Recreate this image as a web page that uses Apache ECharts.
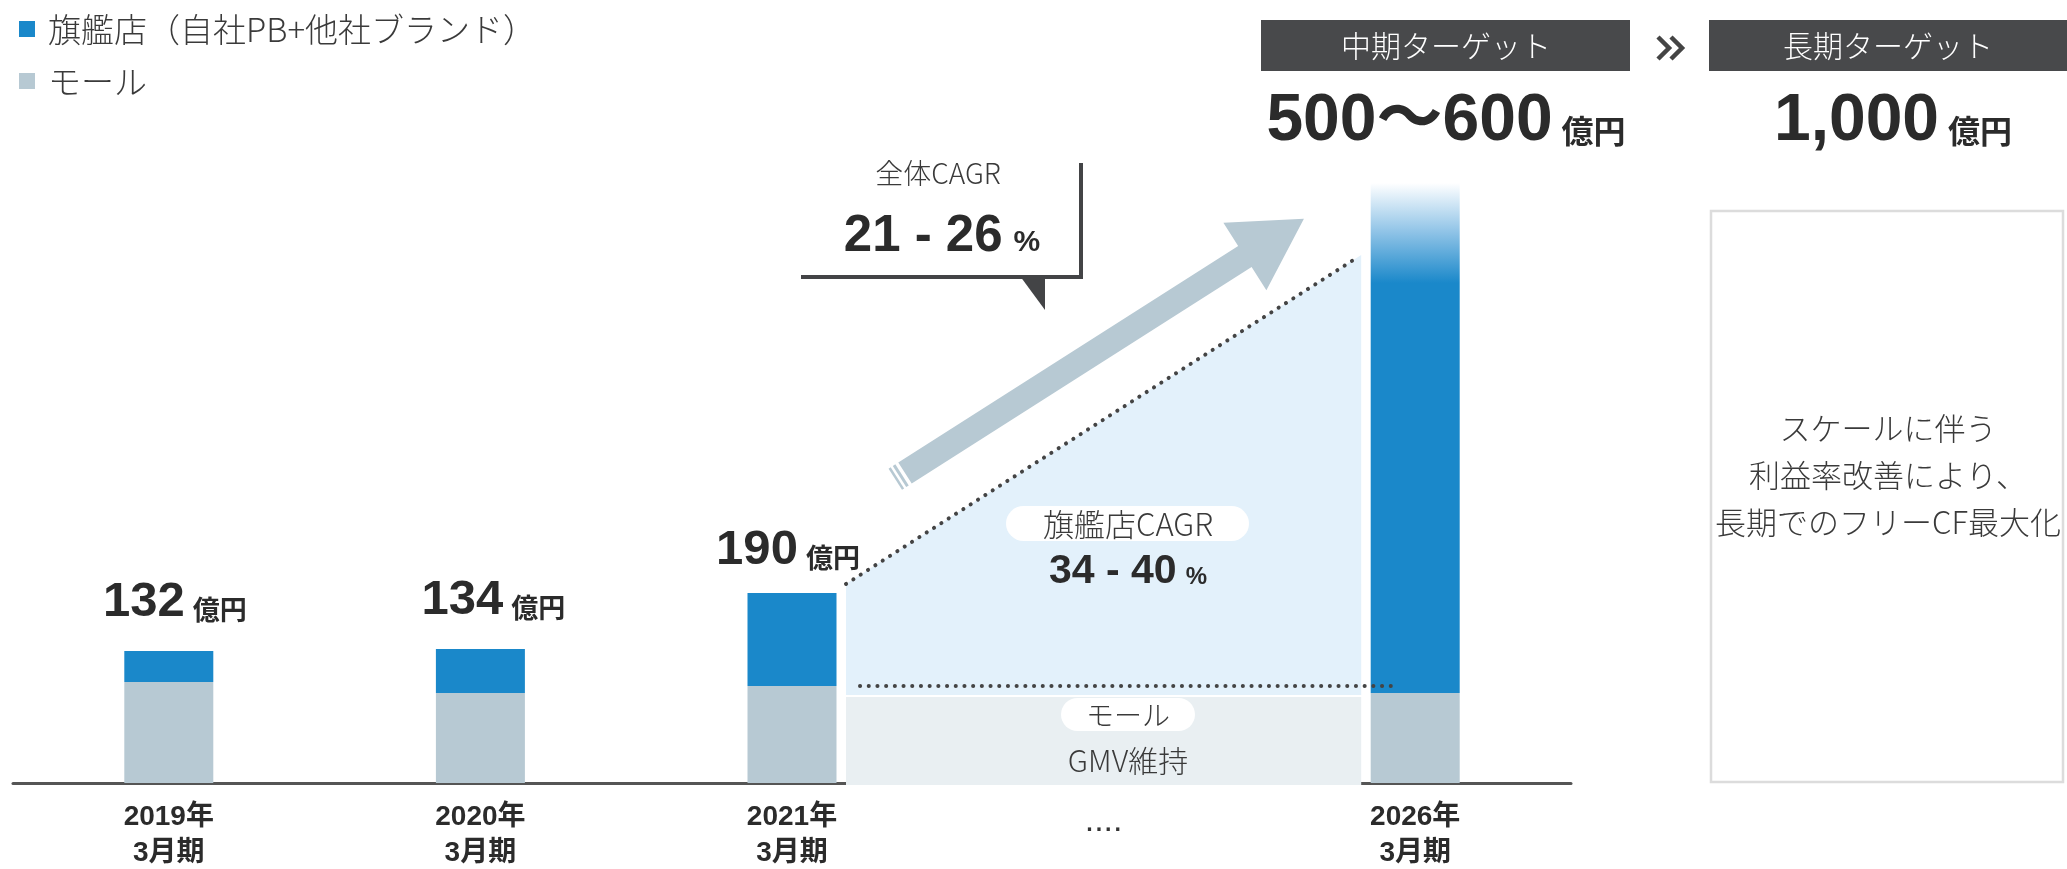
<!DOCTYPE html>
<html><head><meta charset="utf-8">
<script src="https://cdn.jsdelivr.net/npm/echarts@6/dist/echarts.min.js"></script>
<style>html,body{margin:0;padding:0;background:#fff}#c{width:2067px;height:869px}</style>
</head><body><div id="c"></div>
<script>
// ---- data ----
const categories = ['2019年\n3月期', '2020年\n3月期', '2021年\n3月期', '....', '2026年\n3月期'];
const mallValues = [101, 90, 97, null, 90];
const flagshipValues = [31, 44, 93, null, 410];
const targetRangeValues = [null, null, null, null, 100];   // 500〜600 target band
const totalLabels = [132, 134, 190, null, null];
const trendFlagship = [199, 528];   // dotted growth line 2021 -> 2026
const mallBandTop = 86;
const seriesNames = ['旗艦店（自社PB+他社ブランド）', 'モール'];

// ---- styles ----
const BLUE = '#1a88ca', MALL = '#b7c9d3', LIGHT = '#e3f1fb', BAND = '#e9eff2';
const DARK = '#48494b', TEXT = '#2b2b2b', GREYTXT = '#3a3a3a';
const NUM = '"Liberation Sans", "Noto Sans CJK JP", sans-serif';
const CJK = '"Noto Sans CJK JP", sans-serif';
const BW = 89;
const labelOffsets = [[6, 0], [13, 0], [-4, 6], [0, 0], [0, 0]];

const chart = echarts.init(document.getElementById('c'), null, {renderer: 'canvas'});
chart.setOption({
  animation: false,
  backgroundColor: '#fff',
  grid: {left: 13, right: 496, top: 183, bottom: 86, outerBoundsMode: 'none', containLabel: false},
  legend: {
    data: seriesNames, orient: 'vertical', left: 14, top: 5, icon: 'rect',
    itemWidth: 16, itemHeight: 16, itemGap: 14, selectedMode: false,
    textStyle: {fontSize: 33, color: GREYTXT, fontFamily: CJK, fontWeight: 300, lineHeight: 38, padding: [0, 0, 0, 8]}
  },
  xAxis: {
    type: 'category', data: categories,
    axisLine: {lineStyle: {color: '#555', width: 3}},
    axisTick: {show: false},
    axisLabel: {fontSize: 28, fontWeight: 'bold', color: TEXT, fontFamily: NUM, lineHeight: 36, margin: 16, interval: 0,
      formatter: v => v === '....' ? '{d|' + v + '}' : v,
      rich: {d: {fontSize: 34, fontWeight: 'normal', fontFamily: NUM, color: '#333', padding: [9, 0, 0, 0]}}}
  },
  yAxis: {type: 'value', min: 0, max: 600, show: false},
  series: [
    {name: seriesNames[1], type: 'bar', stack: 't', barWidth: BW, data: mallValues, itemStyle: {color: MALL}},
    {name: seriesNames[0], type: 'bar', stack: 't', barWidth: BW, itemStyle: {color: BLUE},
      data: flagshipValues.map((v, i) => ({value: v, label: {offset: labelOffsets[i]}})),
      label: {show: true, position: 'top', distance: 24,
        formatter: p => totalLabels[p.dataIndex] == null ? '' : '{n|' + totalLabels[p.dataIndex] + '}{u|億円}',
        rich: {
          n: {fontSize: 49, fontWeight: 'bold', fontFamily: NUM, color: TEXT},
          u: {fontSize: 27, fontWeight: 'bold', fontFamily: CJK, color: TEXT, padding: [14, 0, 0, 8]}
        }}},
    {name: 'target', type: 'bar', stack: 't', barWidth: BW, data: targetRangeValues,
      itemStyle: {color: new echarts.graphic.LinearGradient(0, 0, 0, 1, [
        {offset: 0, color: '#ffffff'}, {offset: 0.5, color: '#8dc2e6'}, {offset: 1, color: BLUE}])}}
  ]
});

// ---- decorations placed from the chart's own scales ----
const px = (i, v) => chart.convertToPixel({gridIndex: 0}, [i, v]);
const x0 = px(2, 0)[0] + BW / 2 + 9.5;
const x1 = px(4, 0)[0] - BW / 2 - 9.5;
const yAt = v => px(0, v)[1];
const yT0 = yAt(trendFlagship[0]), yT1 = yAt(trendFlagship[1]);
const yBand = yAt(mallBandTop), yZero = yAt(0);
const yMall21 = yAt(mallValues[2]);
const lineY = x => yT0 + (yT1 - yT0) * (x - x0) / (x1 - x0);

function arrowPts(T, angDeg) {
  const a = angDeg * Math.PI / 180, ux = Math.cos(a), uy = -Math.sin(a), nx = -uy, ny = ux;
  return (s, w) => [T[0] + ux * s + nx * w, T[1] + uy * s + ny * w];
}
const P = arrowPts([905, 473], 32.5);
const SL = 403, HL = 70, SHW = 12.5, HHW = 40;
const arrowBody = [P(0, -SHW), P(SL, -SHW), P(SL, -HHW), P(SL + HL, 0), P(SL, HHW), P(SL, SHW), P(0, SHW)];
const stripe = (s0, s1) => [P(s0, -SHW), P(s1, -SHW), P(s1, SHW), P(s0, SHW)];

const dots = {stroke: '#444', lineWidth: 4, lineDash: [0.1, 8.6], lineCap: 'round', fill: null};
const txt = (t, x, y, fs, fill, lh) => ({type: 'text', z: 20, style: {text: t, x, y, align: 'center', verticalAlign: 'middle',
  fontSize: fs, lineHeight: lh || fs * 1.3, fontFamily: CJK, fontWeight: 300, fill: fill || GREYTXT}});
const big = (n, u, x, y, nf, uf, pad, ufam) => ({type: 'text', z: 20, style: {text: '{n|' + n + '}{u|' + u + '}', x, y, align: 'center', verticalAlign: 'middle',
  rich: {n: {fontSize: nf, fontWeight: 'bold', fontFamily: NUM, fill: TEXT}, u: {fontSize: uf, fontWeight: 'bold', fontFamily: ufam || CJK, fill: TEXT, padding: pad}}}});

chart.setOption({graphic: [
  // growth area and mall band
  {type: 'polygon', z: 1, shape: {points: [[x0, yT0], [x1, yT1], [x1, yBand - 2], [x0, yBand - 2]]}, style: {fill: LIGHT}},
  {type: 'rect', z: 5, shape: {x: x0, y: yBand, width: x1 - x0, height: yZero - yBand + 2}, style: {fill: BAND}},
  {type: 'polyline', z: 10, shape: {points: [[x0, yT0], [x1 - 5, lineY(x1 - 5)]]}, style: dots},
  {type: 'polyline', z: 10, shape: {points: [[x0 + 14, yMall21], [x1 + 37, yMall21]]}, style: dots},
  // pills
  {type: 'rect', z: 12, shape: {x: 1006, y: 506, width: 243, height: 35, r: 17.5}, style: {fill: '#fff'}},
  txt('旗艦店CAGR', 1128, 524, 31),
  big('34 - 40', '%', 1128, 572, 41, 24, [10, 0, 0, 9], NUM),
  {type: 'rect', z: 12, shape: {x: 1061, y: 698, width: 134, height: 33, r: 16.5}, style: {fill: '#fff'}},
  txt('モール', 1128, 715, 28),
  txt('GMV維持', 1128, 761, 30),
  // arrow
  {type: 'polygon', z: 8, shape: {points: arrowBody}, style: {fill: MALL}},
  {type: 'polygon', z: 8, shape: {points: stripe(-6.5, -3.5)}, style: {fill: MALL}},
  {type: 'polygon', z: 8, shape: {points: stripe(-11.5, -9)}, style: {fill: MALL}},
  // callout
  {type: 'polyline', z: 10, shape: {points: [[801, 277], [1081, 277], [1081, 163]]}, style: {stroke: '#434446', lineWidth: 4, fill: null}},
  {type: 'polygon', z: 10, shape: {points: [[1020, 276], [1045, 276], [1045, 310]]}, style: {fill: '#434446'}},
  txt('全体CAGR', 938, 173, 28),
  big('21 - 26', '%', 942, 237, 51, 30, [12, 0, 0, 11], NUM),
  // headers
  {type: 'rect', z: 10, shape: {x: 1261, y: 20, width: 369, height: 51}, style: {fill: DARK}},
  txt('中期ターゲット', 1446, 46, 30, '#ffffff'),
  {type: 'rect', z: 10, shape: {x: 1709, y: 20, width: 358, height: 51}, style: {fill: DARK}},
  txt('長期ターゲット', 1888, 46, 30, '#ffffff'),
  {type: 'polyline', z: 10, shape: {points: [[1658, 37], [1669, 48], [1658, 59]]}, style: {stroke: '#444', lineWidth: 4.5, fill: null}},
  {type: 'polyline', z: 10, shape: {points: [[1671, 37], [1682, 48], [1671, 59]]}, style: {stroke: '#444', lineWidth: 4.5, fill: null}},
  big('500〜600', '億円', 1446, 122, 66, 32, [18, 0, 0, 9]),
  big('1,000', '億円', 1893, 122, 66, 32, [18, 0, 0, 9]),
  // long-term box
  {type: 'rect', z: 10, shape: {x: 1711, y: 211, width: 352, height: 571}, style: {fill: null, stroke: '#dcdcdc', lineWidth: 2.5}},
  txt('スケールに伴う\n利益率改善により、\n長期でのフリーCF最大化', 1888, 475, 31, GREYTXT, 47)
]});
</script></body></html>
